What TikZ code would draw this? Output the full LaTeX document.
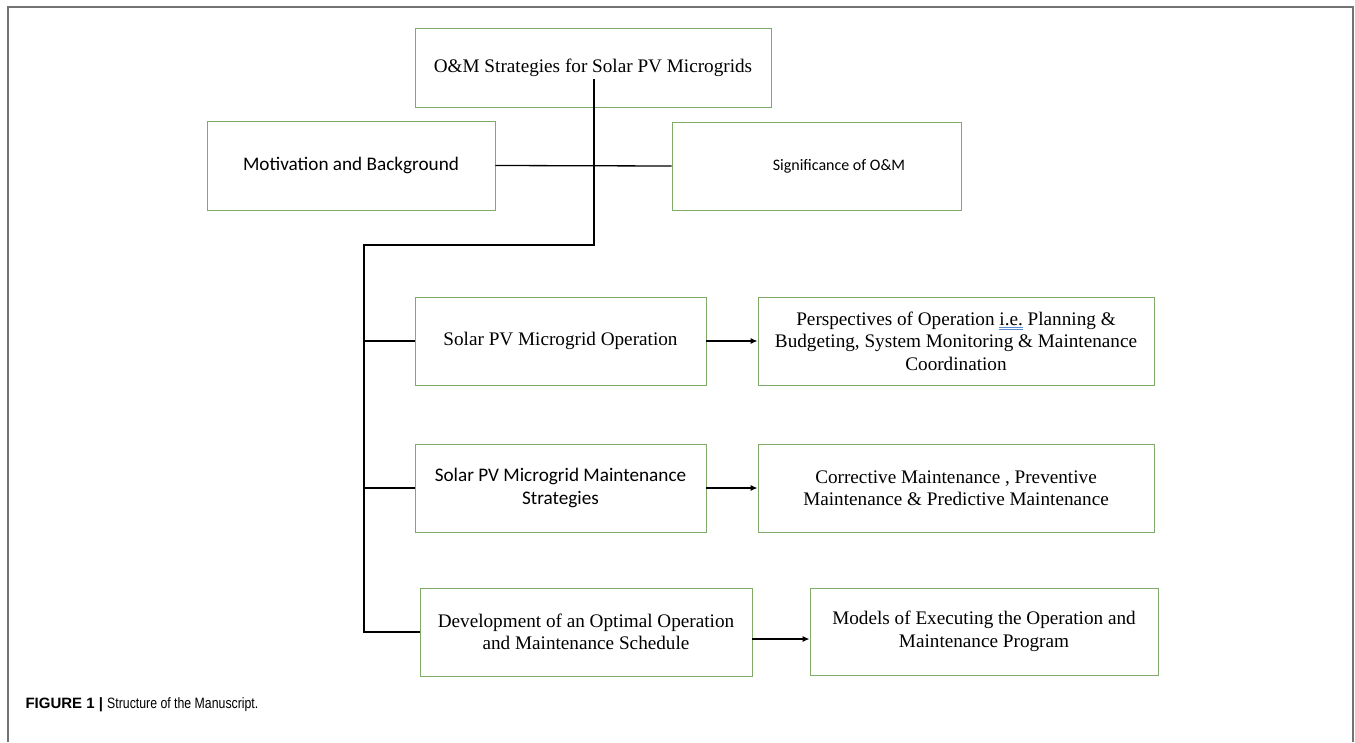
\documentclass[tikz,border=0pt]{standalone}
\usepackage{fontspec}
\setmainfont{Liberation Serif}
\setsansfont{Liberation Sans}
\newfontfamily\calibri{Carlito}
\newfontfamily\narrowsans[FakeStretch=0.82]{Liberation Sans}
\usetikzlibrary{arrows.meta}
\definecolor{boxgreen}{RGB}{128,170,104}
\definecolor{framegray}{RGB}{115,115,115}
\definecolor{ulblue}{RGB}{90,140,210}
\newcommand\gramul[1]{\textcolor{ulblue}{$\underline{\underline{\hbox{\color{black}#1}}}$}}

\begin{document}
\begin{tikzpicture}[x=1pt,y=-1pt,
  box/.style={draw=boxgreen,line width=0.8pt,inner sep=0pt,align=center,
    font=\fontsize{19.2}{22.5}\selectfont},
  sbox/.style={box,font=\fontsize{19.2}{22.5}\selectfont\calibri},
  link/.style={line width=1.3pt},
  arrow/.style={link,-{Latex[length=7pt,width=6pt]}}]
\useasboundingbox (0,0) rectangle (1355,742);
\draw[framegray,line width=1.2pt] (8,742) -- (8,7) -- (1353,7) -- (1353,742);

\node[box,minimum width=356,minimum height=79] (title) at (593,67.5) {O\&M Strategies for Solar PV Microgrids};
\node[sbox,minimum width=288,minimum height=89] (motiv) at (351,165.5) {Motivation and Background};
\node[sbox,minimum width=289,minimum height=88,font=\fontsize{16}{19}\selectfont\calibri]
  (signif) at (816.5,166) {\hspace*{45pt}Significance of O\&M};

\node[box,minimum width=291,minimum height=88] (oper) at (560.5,341) {Solar PV Microgrid Operation};
\node[box,minimum width=396,minimum height=88] (persp) at (956,341)
  {Perspectives of Operation \gramul{i.e.} Planning \&\\Budgeting, System Monitoring \& Maintenance\\Coordination};

\node[sbox,minimum width=291,minimum height=88] (maint) at (560.5,488) {Solar PV Microgrid Maintenance\\Strategies};
\node[box,minimum width=396,minimum height=88] (correc) at (956,488)
  {Corrective Maintenance , Preventive\\Maintenance \& Predictive Maintenance};

\node[box,minimum width=332,minimum height=88] (devel) at (586,632) {Development of an Optimal Operation\\and Maintenance Schedule};
\node[box,minimum width=348,minimum height=87] (models) at (984,631.5) {Models of Executing the Operation and\\Maintenance Program};

\coordinate (start) at (594,79);
\coordinate (split) at (594,245);
\coordinate (corner) at (364,245);

\draw[link] (start) -- (split) -- (corner) -- (corner |- devel.west) -- (devel.west);
\draw[link] (motiv.east) -- (signif.west);
\draw[link] (corner |- oper.west) -- (oper.west);
\draw[link] (corner |- maint.west) -- (maint.west);

\draw[arrow] (oper.east) -- (persp.west);
\draw[arrow] (maint.east) -- (correc.west);
\draw[arrow] ([yshift=-7pt]devel.east) -- ([yshift=-7pt]devel.east -| models.west);

\node[anchor=west,font=\fontsize{15}{18}\sffamily] (caption) at (22,705)
  {\textbf{FIGURE 1 |} {\narrowsans Structure of the Manuscript.}};
\end{tikzpicture}
\end{document}
